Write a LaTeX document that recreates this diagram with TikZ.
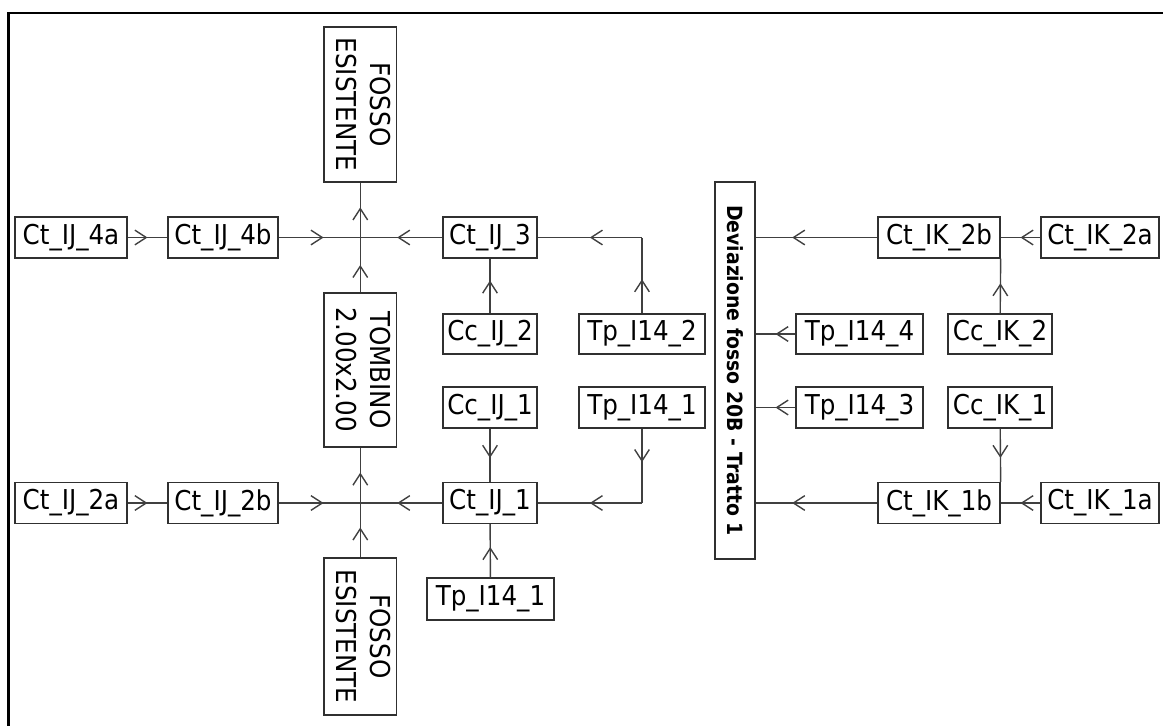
\documentclass[tikz,border=0pt]{standalone}
\usepackage{fontspec}
\setmainfont{DejaVu Sans Condensed}
\usetikzlibrary{arrows.meta,decorations.markings}
\definecolor{linegray}{HTML}{404040}
\definecolor{boxgray}{HTML}{303030}
\def\pxu{0.75pt}
\newcommand\boxfont{\fontsize{20.5}{25}\selectfont}
\begin{document}
\begin{tikzpicture}[x=0.75pt,y=-0.75pt,
  box/.style={draw=boxgray, line width=1pt, inner sep=0pt, font=\boxfont, text=black},
  flow/.style={draw=linegray, line width=1.05pt,
    postaction={decorate, decoration={markings,
      mark=at position #1 with {\arrow{Straight Barb[length=8.5pt,width=11pt]}}}}},
  flow/.default=0.55]
\useasboundingbox (0,0) rectangle (1163,725);
% frame (top and left edges)
\draw[line width=2.2pt, line join=miter] (8.8,726) -- (8.8,13) -- (1164,13);

% left column
\node[box, minimum width=72.5*\pxu, minimum height=155*\pxu] (fossoT) at (360.3,104.5)
  {\rotatebox{-90}{\begin{tabular}{@{}c@{}}FOSSO\\ESISTENTE\end{tabular}}};
\node[box, minimum width=72.5*\pxu, minimum height=154*\pxu] (tomb) at (360.3,370)
  {\rotatebox{-90}{\begin{tabular}{@{}c@{}}TOMBINO\\2.00x2.00\end{tabular}}};
\node[box, minimum width=72.5*\pxu, minimum height=157*\pxu] (fossoB) at (360.3,636.5)
  {\rotatebox{-90}{\begin{tabular}{@{}c@{}}FOSSO\\ESISTENTE\end{tabular}}};

\node[box, minimum width=112*\pxu, minimum height=41*\pxu] (ij4a) at (71,237.5) {Ct\_IJ\_4a};
\node[box, minimum width=110*\pxu, minimum height=41*\pxu] (ij4b) at (223,237.5) {Ct\_IJ\_4b};
\node[box, minimum width=112*\pxu, minimum height=41*\pxu] (ij2a) at (71,503) {Ct\_IJ\_2a};
\node[box, minimum width=110*\pxu, minimum height=41*\pxu] (ij2b) at (223,503) {Ct\_IJ\_2b};

% middle
\node[box, minimum width=94*\pxu, minimum height=41*\pxu] (ij3) at (490,237.5) {Ct\_IJ\_3};
\node[box, minimum width=94*\pxu, minimum height=40*\pxu] (ccij2) at (490,334) {Cc\_IJ\_2};
\node[box, minimum width=126*\pxu, minimum height=40*\pxu] (tp2) at (642,334) {Tp\_I14\_2};
\node[box, minimum width=94*\pxu, minimum height=41*\pxu] (ccij1) at (490,407.5) {Cc\_IJ\_1};
\node[box, minimum width=126*\pxu, minimum height=41*\pxu] (tp1a) at (642,407.5) {Tp\_I14\_1};
\node[box, minimum width=94*\pxu, minimum height=41*\pxu] (ij1) at (490,503) {Ct\_IJ\_1};
\node[box, minimum width=127*\pxu, minimum height=42*\pxu] (tp1b) at (490.5,599) {Tp\_I14\_1};

% deviazione
\node[box, minimum width=40*\pxu, minimum height=377*\pxu] (dev) at (735,370.5)
  {\rotatebox{-90}{\bfseries\fontsize{15.7}{18}\selectfont Deviazione fosso 20B - Tratto 1}};

% right
\node[box, minimum width=122*\pxu, minimum height=41*\pxu] (ik2b) at (939,237.5) {Ct\_IK\_2b};
\node[box, minimum width=118*\pxu, minimum height=41*\pxu] (ik2a) at (1100,237.5) {Ct\_IK\_2a};
\node[box, minimum width=127*\pxu, minimum height=40*\pxu] (tp4) at (859.5,334) {Tp\_I14\_4};
\node[box, minimum width=104*\pxu, minimum height=40*\pxu] (ccik2) at (1000,334) {Cc\_IK\_2};
\node[box, minimum width=127*\pxu, minimum height=41*\pxu] (tp3) at (859.5,407.5) {Tp\_I14\_3};
\node[box, minimum width=104*\pxu, minimum height=41*\pxu] (ccik1) at (1000,407.5) {Cc\_IK\_1};
\node[box, minimum width=122*\pxu, minimum height=41*\pxu] (ik1b) at (939,503) {Ct\_IK\_1b};
\node[box, minimum width=118*\pxu, minimum height=41*\pxu] (ik1a) at (1100,503) {Ct\_IK\_1a};

% junctions and corners
\coordinate (J1) at (fossoT.south |- ij4b.east);
\coordinate (J2) at (tomb.south |- ij2b.east);
\coordinate (c2) at (tp2.north |- ij3.east);
\coordinate (c1) at (tp1a.south |- ij1.east);
\coordinate (d1) at (dev.east |- ik2b.west);
\coordinate (d2) at (dev.east |- tp4.west);
\coordinate (d3) at (dev.east |- tp3.west);
\coordinate (d4) at (dev.east |- ik1b.west);

% left connectors
\draw[flow=0.5] (ij4a) -- (ij4b);
\draw[flow] (ij4b) -- (J1);
\draw[flow] (ij3) -- (J1);
\draw[flow] (J1) -- (fossoT);
\draw[flow=0.5] (tomb) -- (J1);
\draw[flow=0.5] (ij2a) -- (ij2b);
\draw[flow] (ij2b) -- (J2);
\draw[flow] (ij1) -- (J2);
\draw[flow] (J2) -- (tomb);
\draw[flow] (fossoB) -- (J2);

% middle connectors
\draw[flow=0.45] (tp2) -- (c2);
\draw[flow=0.5] (c2) -- (ij3);
\draw[flow=0.6] (ccij2) -- (ij3);
\draw[flow] (ccij1) -- (ij1);
\draw[flow=0.45] (tp1a) -- (c1);
\draw[flow=0.5] (c1) -- (ij1);
\draw[flow=0.57] (tp1b) -- (ij1);

% right connectors
\draw[flow=0.7] (ik2b) -- (d1);
\draw[flow=0.5] (ik2a) -- (ik2b);
\draw[flow] (ccik2) -- (ik2b.south east);
\draw[flow=0.5] (tp4) -- (d2);
\draw[flow=0.5] (tp3) -- (d3);
\draw[flow] (ccik1) -- (ik1b.north east);
\draw[flow=0.5] (ik1a) -- (ik1b);
\draw[flow=0.7] (ik1b) -- (d4);
\end{tikzpicture}
\end{document}
